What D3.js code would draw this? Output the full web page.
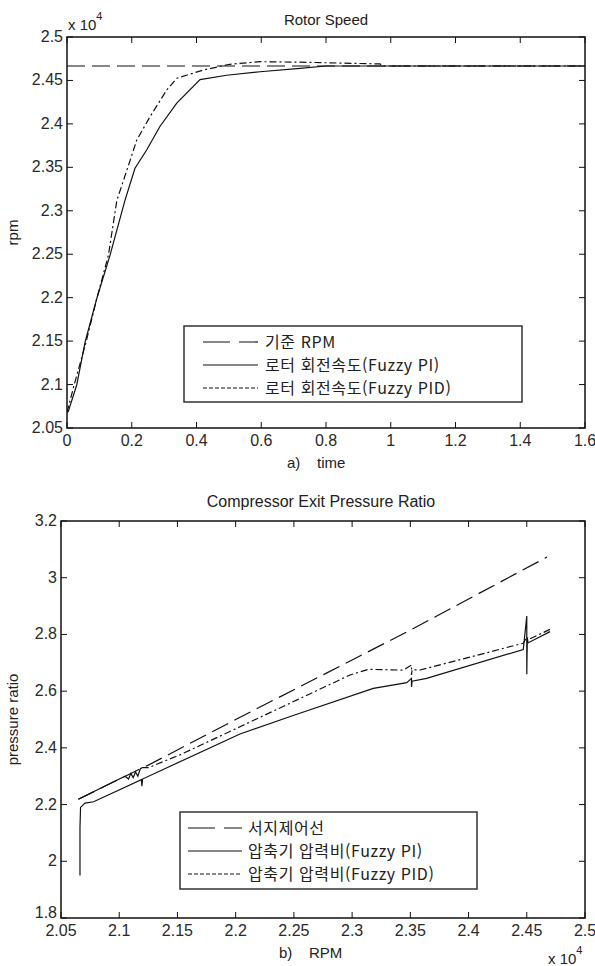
<!DOCTYPE html>
<html lang="ko">
<head>
<meta charset="UTF-8">
<title>Rotor Speed / Compressor Exit Pressure Ratio</title>
<script src="https://d3js.org/d3.v7.min.js"></script>
<style>
  body { margin: 0; background: #fff; }
  svg { display: block; }
  .tick-label { font: 16px "Liberation Sans", Arial, sans-serif; fill: #2a2a2a; }
  .title { font: 15px "Liberation Sans", Arial, sans-serif; fill: #222; }
  .axis-label { font: 15px "Liberation Sans", Arial, sans-serif; fill: #222; }
  .legend-text { font-family: "Noto Sans CJK KR", sans-serif; fill: #222; letter-spacing: 0.6px; }
  .frame { fill: none; stroke: #111; stroke-width: 1.5; }
  .series { fill: none; stroke: #111; stroke-width: 1.2; }
</style>
</head>
<body>
<div id="chart"></div>
<script>
// ---- top chart: Rotor Speed (rpm x 10^4 vs time) ----
const speedXTicks = [0, 0.2, 0.4, 0.6, 0.8, 1, 1.2, 1.4, 1.6];
const speedYTicks = [2.05, 2.1, 2.15, 2.2, 2.25, 2.3, 2.35, 2.4, 2.45, 2.5];

const refTime = [0, 1.6];
const refRpm = [2.4666, 2.4666];

const piTime = [0, 0.004, 0.030, 0.056, 0.092, 0.133, 0.179, 0.21, 0.246, 0.287, 0.339, 0.411, 0.493, 0.596, 0.72, 0.8, 1.6];
const piRpm  = [2.068, 2.069, 2.0995, 2.149, 2.199, 2.249, 2.312, 2.349, 2.370, 2.397, 2.424, 2.451, 2.456, 2.460, 2.464, 2.4666, 2.4666];

const pidTime = [0, 0.022, 0.059, 0.092, 0.128, 0.154, 0.195, 0.215, 0.256, 0.308, 0.339, 0.421, 0.503, 0.596, 0.72, 0.967, 0.975, 1.6];
const pidRpm  = [2.068, 2.0995, 2.149, 2.199, 2.249, 2.312, 2.358, 2.381, 2.408, 2.439, 2.4525, 2.462, 2.4686, 2.4716, 2.471, 2.469, 2.4666, 2.4666];

const speedLegend = ["기준 RPM", "로터 회전속도(Fuzzy PI)", "로터 회전속도(Fuzzy PID)"];

// ---- bottom chart: Compressor Exit Pressure Ratio vs RPM x 10^4 ----
const ratioXTicks = [2.05, 2.1, 2.15, 2.2, 2.25, 2.3, 2.35, 2.4, 2.45, 2.5];
const ratioYTicks = [1.8, 2, 2.2, 2.4, 2.6, 2.8, 3, 3.2];

const surgeRpm   = [2.0649, 2.12, 2.125, 2.2, 2.3, 2.35, 2.4, 2.4675];
const surgeRatio = [2.2185, 2.33, 2.339, 2.50, 2.71, 2.815, 2.925, 3.073];

const cpPiRpm   = [2.0663, 2.0663, 2.0668, 2.0706, 2.078, 2.119, 2.1195, 2.12, 2.2037, 2.25, 2.3182, 2.347, 2.351, 2.351, 2.3515, 2.364, 2.447, 2.45, 2.45, 2.4505, 2.451, 2.47];
const cpPiRatio = [1.95, 2.12, 2.19, 2.205, 2.21, 2.288, 2.265, 2.29, 2.449, 2.515, 2.610, 2.630, 2.645, 2.615, 2.635, 2.645, 2.747, 2.865, 2.66, 2.79, 2.77, 2.81];

// the first stretch (up to 2.12) runs on top of the surge line and reads as one thick noisy stroke
const cpPidRpm   = [2.0649, 2.09, 2.105, 2.108, 2.110, 2.112, 2.114, 2.116, 2.118, 2.1193, 2.125, 2.152, 2.2037, 2.2982, 2.314, 2.344, 2.351, 2.351, 2.3515, 2.3583, 2.447, 2.45, 2.4505, 2.47];
const cpPidRatio = [2.2185, 2.27, 2.30, 2.29, 2.31, 2.295, 2.315, 2.30, 2.325, 2.33, 2.33, 2.375, 2.4745, 2.657, 2.677, 2.674, 2.692, 2.657, 2.675, 2.6745, 2.769, 2.79, 2.78, 2.818];
const pidNoisyEnd = 10;

const ratioLegend = ["서지제어선", "압축기 압력비(Fuzzy PI)", "압축기 압력비(Fuzzy PID)"];

const fmt = v => String(+v.toFixed(2));
const zip = (xs, ys) => xs.map((x, i) => [x, ys[i]]);

const svg = d3.select("#chart").append("svg")
    .attr("width", 595)
    .attr("height", 966);

function drawPanel(cfg) {
    const x = d3.scaleLinear().domain(cfg.xDomain).range([cfg.left, cfg.right]);
    const y = d3.scaleLinear().domain(cfg.yDomain).range([cfg.bottom, cfg.top]);
    const g = svg.append("g");
    const tl = 6;

    g.append("clipPath").attr("id", cfg.id + "-clip")
        .append("rect")
        .attr("x", cfg.left).attr("y", cfg.top - 2)
        .attr("width", cfg.right - cfg.left).attr("height", cfg.bottom - cfg.top + 4);

    // inward ticks on all four sides
    cfg.xTicks.forEach(v => {
        g.append("line").attr("x1", x(v)).attr("x2", x(v))
            .attr("y1", cfg.bottom).attr("y2", cfg.bottom - tl).attr("stroke", "#111");
        g.append("line").attr("x1", x(v)).attr("x2", x(v))
            .attr("y1", cfg.top).attr("y2", cfg.top + tl).attr("stroke", "#111");
        g.append("text").attr("class", "tick-label")
            .attr("x", x(v)).attr("y", cfg.bottom + 18)
            .attr("text-anchor", "middle").text(fmt(v));
    });
    cfg.yTicks.forEach((v, i) => {
        g.append("line").attr("x1", cfg.left).attr("x2", cfg.left + tl)
            .attr("y1", y(v)).attr("y2", y(v)).attr("stroke", "#111");
        g.append("line").attr("x1", cfg.right).attr("x2", cfg.right - tl)
            .attr("y1", y(v)).attr("y2", y(v)).attr("stroke", "#111");
        // lowest label lifted a little so it clears the first x label
        const dy = i === 0 && cfg.liftFirst ? 0 : 5;
        g.append("text").attr("class", "tick-label")
            .attr("x", cfg.left - 4).attr("y", y(v) + dy)
            .attr("text-anchor", "end").text(fmt(v));
    });

    g.append("rect").attr("class", "frame")
        .attr("x", cfg.left).attr("y", cfg.top)
        .attr("width", cfg.right - cfg.left).attr("height", cfg.bottom - cfg.top);

    const line = d3.line().x(d => x(d[0])).y(d => y(d[1]));
    const lines = g.append("g").attr("clip-path", `url(#${cfg.id}-clip)`);
    cfg.series.forEach(s => {
        lines.append("path").attr("class", "series")
            .attr("d", line(s.data))
            .attr("stroke-dasharray", s.dash)
            .attr("stroke-width", s.width || null);
    });

    // title and axis labels
    g.append("text").attr("class", "title")
        .style("font-size", cfg.titleSize + "px")
        .attr("x", cfg.titleX).attr("y", cfg.titleY)
        .attr("text-anchor", "middle").text(cfg.title);
    g.append("text").attr("class", "axis-label")
        .attr("x", cfg.xLabelX).attr("y", cfg.xLabelY)
        .attr("xml:space", "preserve").text(cfg.xLabel);
    g.append("text").attr("class", "axis-label")
        .attr("transform", `translate(${cfg.yLabelX},${(cfg.top + cfg.bottom) / 2}) rotate(-90)`)
        .attr("text-anchor", "middle").text(cfg.yLabel);

    // exponent label "x 10^4"
    const ex = g.append("text").attr("class", "axis-label")
        .attr("x", cfg.expX).attr("y", cfg.expY);
    ex.append("tspan").text("x 10");
    ex.append("tspan").attr("dy", -10).style("font-size", "11px").text("4");

    // legend
    const L = cfg.legend;
    g.append("rect").attr("x", L.x).attr("y", L.y).attr("width", L.w).attr("height", L.h)
        .attr("fill", "#fff").attr("stroke", "#333").attr("stroke-width", 1.5);
    L.labels.forEach((t, i) => {
        const ry = L.rowY[i];
        g.append("line").attr("x1", L.lx1).attr("x2", L.lx2)
            .attr("y1", ry).attr("y2", ry)
            .attr("stroke", "#111").attr("stroke-width", 1.2)
            .attr("stroke-dasharray", L.dashes[i]);
        g.append("text").attr("class", "legend-text")
            .style("font-size", L.size + "px")
            .attr("x", L.tx).attr("y", ry + L.size * 0.36).text(t);
    });
}

drawPanel({
    id: "speed",
    left: 67, right: 585, top: 37, bottom: 428,
    xDomain: [0, 1.6], yDomain: [2.05, 2.5],
    xTicks: speedXTicks, yTicks: speedYTicks,
    series: [
        { data: zip(refTime, refRpm), dash: "18,7" },
        { data: zip(piTime, piRpm), dash: null },
        { data: zip(pidTime, pidRpm), dash: "7,3,2,3" }
    ],
    title: "Rotor Speed", titleSize: 15, titleX: 326, titleY: 25,
    xLabel: "a)    time", xLabelX: 287, xLabelY: 468,
    yLabel: "rpm", yLabelX: 18,
    expX: 68, expY: 30,
    legend: {
        x: 184, y: 326, w: 338, h: 76, size: 16,
        rowY: [342, 365, 388], lx1: 203, lx2: 258, tx: 265,
        dashes: ["27,9", null, "4,2"], labels: speedLegend
    }
});

const pidAll = zip(cpPidRpm, cpPidRatio);
drawPanel({
    id: "ratio",
    left: 61, right: 585, top: 521, bottom: 918,
    xDomain: [2.05, 2.5], yDomain: [1.8, 3.2],
    xTicks: ratioXTicks, yTicks: ratioYTicks, liftFirst: true,
    series: [
        { data: zip(surgeRpm, surgeRatio), dash: "18,7" },
        { data: zip(cpPiRpm, cpPiRatio), dash: null },
        { data: pidAll.slice(0, pidNoisyEnd), dash: null, width: 1.8 },
        { data: pidAll.slice(pidNoisyEnd - 1), dash: "7,3,2,3" }
    ],
    title: "Compressor Exit Pressure Ratio", titleSize: 16, titleX: 321, titleY: 507,
    xLabel: "b)    RPM", xLabelX: 279, xLabelY: 958,
    yLabel: "pressure ratio", yLabelX: 18,
    expX: 548, expY: 964,
    legend: {
        x: 180, y: 812, w: 297, h: 77, size: 16,
        rowY: [828, 851, 874], lx1: 188, lx2: 242, tx: 248,
        dashes: ["27,9", null, "4,2"], labels: ratioLegend
    }
});
</script>
</body>
</html>
